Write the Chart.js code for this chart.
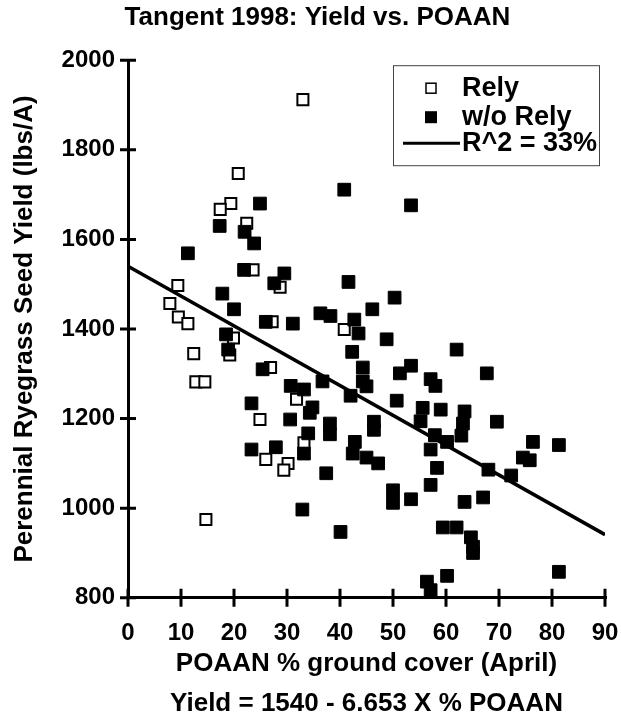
<!DOCTYPE html>
<html>
<head>
<meta charset="utf-8">
<title>Tangent 1998: Yield vs. POAAN</title>
<script src="https://cdn.jsdelivr.net/npm/chart.js@4.4.0/dist/chart.umd.min.js"></script>
<style>
  html, body { margin: 0; padding: 0; background: #fff; }
  #wrap { width: 621px; height: 719px; }
</style>
</head>
<body>
<div id="wrap"><canvas id="grafico" width="621" height="719"></canvas></div>
<script>
// Rely (quadrados vazados)
const relyX = [33.0, 20.8, 19.4, 17.4, 22.4, 23.6, 9.4, 28.7, 7.9, 9.5, 11.3, 27.2, 19.9,
               19.2, 12.4, 26.9, 12.8, 14.5, 31.8, 24.9, 33.2, 26.0, 30.2, 29.4, 14.7, 40.8];
const relyY = [1912, 1747, 1680, 1667, 1636, 1532, 1497, 1493, 1457, 1427, 1412, 1416, 1380,
               1342, 1345, 1314, 1282, 1282, 1243, 1198, 1146, 1109, 1100, 1085, 975, 1399];

// w/o Rely (quadrados cheios)
const semRelyX = [24.9, 17.3, 22.0, 23.8, 11.3, 21.9, 29.5, 27.6, 17.8, 20.0, 26.0, 31.1, 18.5,
                  18.9, 25.4, 30.7, 33.2, 36.7, 23.3, 34.8, 34.3, 30.6, 34.0, 33.2, 23.3, 27.9,
                  32.9, 40.8, 53.4, 41.6, 50.3, 36.3, 38.2, 46.1, 42.7, 43.5, 48.8, 62.0, 42.3,
                  44.3, 53.4, 51.3, 67.7, 44.3, 45.0, 57.1, 58.0, 42.0, 50.7, 55.6, 59.0, 63.5,
                  69.6, 38.1, 38.1, 46.4, 46.4, 55.2, 63.2, 62.9, 57.9, 60.2, 42.8, 57.1, 42.4,
                  45.0, 47.2, 76.4, 81.3, 74.5, 75.8, 58.3, 68.0, 72.3, 37.4, 57.1, 50.0, 50.0,
                  53.4, 63.5, 67.0, 40.1, 59.4, 62.0, 64.7, 65.1, 65.1, 60.2, 56.4, 57.1, 81.3];
const semRelyY = [1680, 1630, 1617, 1591, 1569, 1532, 1524, 1502, 1479, 1444, 1416, 1412, 1388,
                  1354, 1310, 1273, 1265, 1283, 1234, 1225, 1213, 1198, 1167, 1122, 1131, 1136,
                  997, 1711, 1676, 1505, 1470, 1435, 1429, 1444, 1421, 1390, 1377, 1354, 1349,
                  1314, 1318, 1301, 1301, 1283, 1272, 1288, 1273, 1251, 1240, 1224, 1220, 1216,
                  1193, 1189, 1165, 1193, 1175, 1194, 1189, 1162, 1163, 1148, 1148, 1131, 1122,
                  1113, 1100, 1148, 1141, 1113, 1107, 1090, 1086, 1073, 1078, 1052, 1040, 1012,
                  1020, 1014, 1024, 947, 957, 957, 935, 914, 900, 849, 836, 817, 858];

// reta de regressão: Yield = 1540 - 6.653 X
const retaX = [0, 90];
const retaY = [1540, 941];

const ticksX = [0, 10, 20, 30, 40, 50, 60, 70, 80, 90];
const ticksY = [800, 1000, 1200, 1400, 1600, 1800, 2000];

const FONTE = "'Liberation Sans', Arial, sans-serif";

function pares(xs, ys) {
  return xs.map((x, i) => ({ x, y: ys[i] }));
}

// marcas dos eixos cruzando a linha do eixo
const marcasEixo = {
  id: 'marcasEixo',
  afterDraw(chart) {
    const { ctx: c, chartArea: area, scales: { x, y } } = chart;
    c.save();
    c.strokeStyle = '#000';
    c.lineWidth = 3;
    c.beginPath();
    x.ticks.forEach(t => {
      const px = x.getPixelForValue(t.value);
      c.moveTo(px, area.bottom + 9);
      c.lineTo(px, area.bottom - 9);
    });
    y.ticks.forEach(t => {
      const py = y.getPixelForValue(t.value);
      c.moveTo(area.left - 8, py);
      c.lineTo(area.left + 8, py);
    });
    c.stroke();
    c.restore();
  }
};

// legenda com moldura dentro da área do gráfico
const legendaCaixa = {
  id: 'legendaCaixa',
  afterDraw(chart) {
    const c = chart.ctx;
    const { right, top } = chart.chartArea;
    const bx = right - 212, by = top + 5, bw = 206, bh = 100;
    c.save();
    c.fillStyle = '#fff';
    c.fillRect(bx, by, bw, bh);
    c.strokeStyle = '#444';
    c.lineWidth = 1;
    c.strokeRect(bx + 0.5, by + 0.5, bw, bh);

    const mx = bx + 38, tx = bx + 69;
    const linhas = [by + 23, by + 52, by + 78];

    c.lineWidth = 1.5;
    c.strokeStyle = '#000';
    c.strokeRect(mx - 5, linhas[0] - 5, 10, 10);
    c.fillStyle = '#000';
    c.fillRect(mx - 6, linhas[1] - 6, 12, 12);
    c.lineWidth = 3;
    c.beginPath();
    c.moveTo(bx + 10, linhas[2]);
    c.lineTo(bx + 67, linhas[2]);
    c.stroke();

    c.font = 'bold 27px ' + FONTE;
    c.textAlign = 'left';
    c.textBaseline = 'middle';
    c.fillText('Rely', tx, linhas[0]);
    c.fillText('w/o Rely', tx, linhas[1]);
    c.fillText('R^2 = 33%', tx, linhas[2]);
    c.restore();
  }
};

const ctx = document.getElementById('grafico').getContext('2d');
new Chart(ctx, {
  type: 'scatter',
  data: {
    datasets: [
      {
        label: 'R^2 = 33%',
        type: 'line',
        data: pares(retaX, retaY),
        borderColor: '#000',
        borderWidth: 3.5,
        pointRadius: 0,
        fill: false,
        order: 0
      },
      {
        label: 'Rely',
        data: pares(relyX, relyY),
        pointStyle: 'rect',
        pointRadius: 7.8,
        backgroundColor: '#fff',
        borderColor: '#000',
        borderWidth: 2,
        order: 2
      },
      {
        label: 'w/o Rely',
        data: pares(semRelyX, semRelyY),
        pointStyle: 'rect',
        pointRadius: 9,
        backgroundColor: '#000',
        borderColor: '#000',
        borderWidth: 1,
        order: 1
      }
    ]
  },
  options: {
    responsive: false,
    animation: false,
    devicePixelRatio: 1,
    layout: { padding: { left: 30, right: 16, top: 0, bottom: 0 } },
    plugins: {
      legend: { display: false },
      tooltip: { enabled: false },
      title: {
        display: true,
        text: 'Tangent 1998: Yield vs. POAAN',
        color: '#000',
        font: { family: FONTE, size: 26, weight: 'bold' },
        padding: { top: 2, bottom: 27 }
      },
      subtitle: {
        display: true,
        position: 'bottom',
        fullSize: false,
        text: 'Yield = 1540 - 6.653 X % POAAN',
        color: '#000',
        font: { family: FONTE, size: 26, weight: 'bold' },
        padding: { top: 0, bottom: 0 }
      }
    },
    scales: {
      x: {
        type: 'linear',
        position: 'bottom',
        min: 0,
        max: 90,
        afterBuildTicks: s => { s.ticks = ticksX.map(v => ({ value: v })); },
        afterFit: s => { s.height = 90; },
        border: { display: true, color: '#000', width: 3 },
        grid: { drawOnChartArea: false, drawTicks: true, tickLength: 21, color: 'rgba(0,0,0,0)', lineWidth: 3 },
        ticks: {
          color: '#000',
          font: { family: FONTE, size: 24, weight: 'bold' },
          padding: 0,
          maxRotation: 0,
          autoSkip: false
        },
        title: {
          display: true,
          text: 'POAAN % ground cover (April)',
          color: '#000',
          font: { family: FONTE, size: 26, weight: 'bold' },
          padding: { top: 0, bottom: 8 }
        }
      },
      y: {
        type: 'linear',
        min: 800,
        max: 2000,
        afterBuildTicks: s => { s.ticks = ticksY.map(v => ({ value: v })); },
        afterFit: s => { s.width = 98; },
        border: { display: true, color: '#000', width: 3 },
        grid: { drawOnChartArea: false, drawTicks: true, tickLength: 8, color: 'rgba(0,0,0,0)', lineWidth: 3 },
        ticks: {
          color: '#000',
          font: { family: FONTE, size: 24, weight: 'bold' },
          padding: 5,
          autoSkip: false,
          callback: v => String(v)
        },
        title: {
          display: true,
          text: 'Perennial Ryegrass Seed Yield (lbs/A)',
          color: '#000',
          font: { family: FONTE, size: 26, weight: 'bold' },
          padding: { top: -21, bottom: 0 }
        }
      }
    }
  },
  plugins: [marcasEixo, legendaCaixa]
});
</script>
</body>
</html>
